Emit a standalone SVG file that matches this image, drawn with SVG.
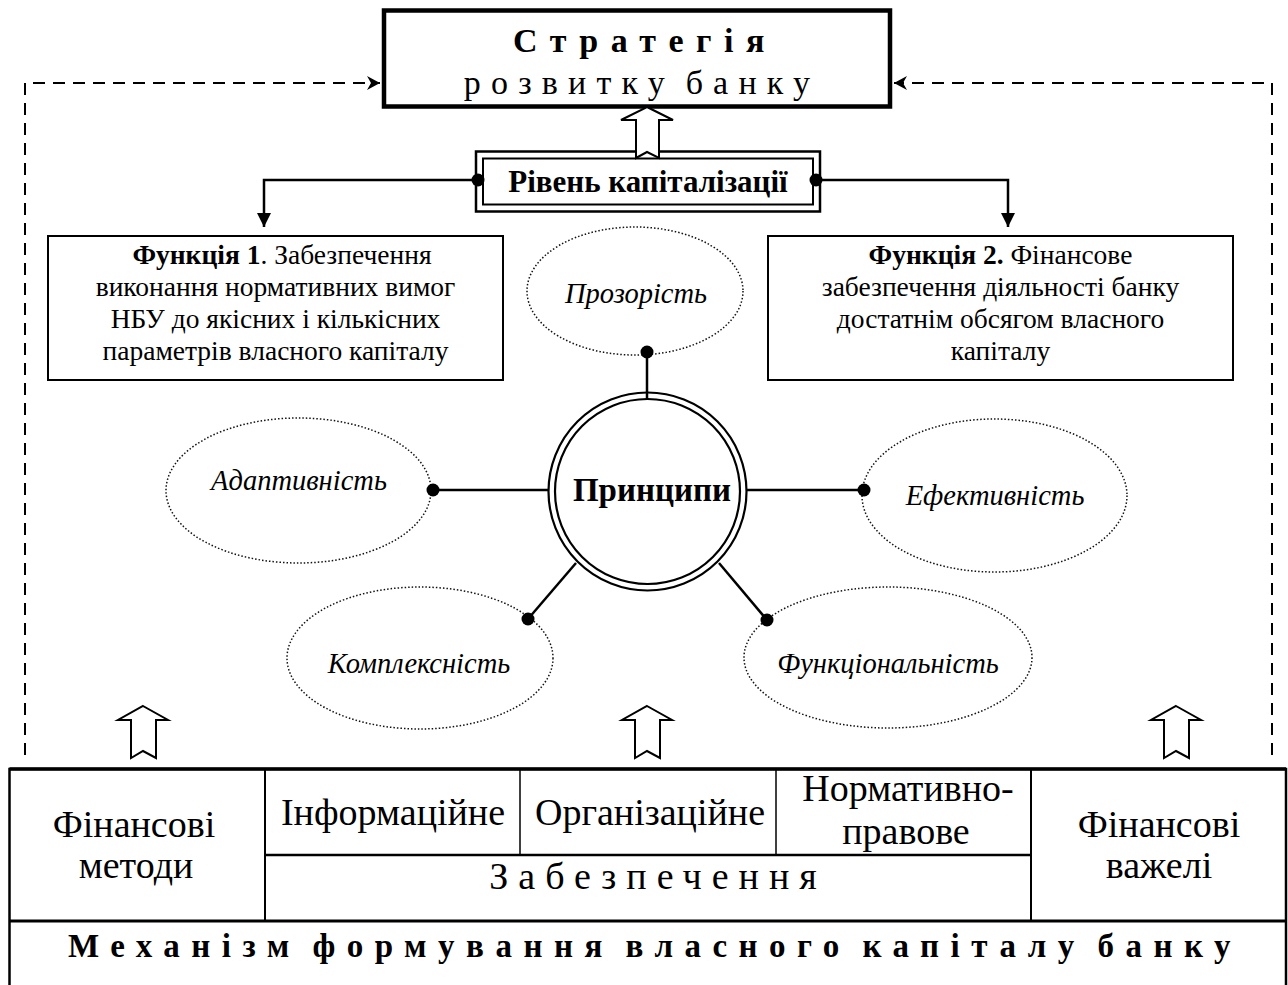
<svg xmlns="http://www.w3.org/2000/svg" width="1288" height="985" viewBox="0 0 1288 985">
<style>
text{font-family:"Liberation Serif","Times New Roman",serif;fill:#000}
.b{font-weight:bold}
.box{fill:#fff;stroke:#000;stroke-width:2}
.ell{fill:none;stroke:#111;stroke-width:1.5;stroke-dasharray:1.5 2}
.ln{fill:none;stroke:#000;stroke-width:2.5}
.dash{fill:none;stroke:#000;stroke-width:2;stroke-dasharray:12 8}
.harrow{fill:#fff;stroke:#000;stroke-width:2;stroke-linejoin:miter}
.f27{font-size:27.5px}
.f38{font-size:38px}
.it{font-size:28.5px;font-style:italic}
</style>
<defs>
<marker id="tri" markerUnits="userSpaceOnUse" markerWidth="16" markerHeight="16" refX="14" refY="7" orient="auto">
<path d="M0,0 L14,7 L0,14 z" fill="#000"/>
</marker>
<marker id="barb" markerUnits="userSpaceOnUse" markerWidth="16" markerHeight="16" refX="13" refY="7" orient="auto">
<path d="M0,0 L13,7 L0,14 L4,7 z" fill="#000"/>
</marker>
</defs>

<g id="strategy">
<rect x="384" y="10.5" width="506" height="96" fill="#fff" stroke="#000" stroke-width="4.5"/>
<text class="b" x="645" y="52" font-size="34" letter-spacing="12.5" text-anchor="middle">Стратегія</text>
<text x="642" y="94" font-size="34" letter-spacing="10.2" word-spacing="-8" text-anchor="middle">розвитку банку</text>
</g>

<g id="level">
<rect x="476" y="151.5" width="344" height="60" fill="#fff" stroke="#000" stroke-width="2.5"/>
<rect x="483" y="158.5" width="330" height="46" fill="none" stroke="#000" stroke-width="2"/>
<text class="b" x="648" y="192" font-size="31" text-anchor="middle">Рівень капіталізації</text>
</g>

<g id="func1">
<rect class="box" x="48" y="236" width="455" height="144"/>
<text class="f27" x="282" y="264" text-anchor="middle"><tspan class="b">Функція 1</tspan>. Забезпечення</text>
<text class="f27" x="275.5" y="296" text-anchor="middle">виконання нормативних вимог</text>
<text class="f27" x="275.5" y="328" text-anchor="middle">НБУ до якісних і кількісних</text>
<text class="f27" x="275.5" y="360" text-anchor="middle">параметрів власного капіталу</text>
</g>

<g id="func2">
<rect class="box" x="768" y="236" width="465" height="144"/>
<text class="f27" x="1000.5" y="264" text-anchor="middle"><tspan class="b">Функція 2.</tspan> Фінансове</text>
<text class="f27" x="1000.5" y="296" text-anchor="middle">забезпечення діяльності банку</text>
<text class="f27" x="1000.5" y="328" text-anchor="middle">достатнім обсягом власного</text>
<text class="f27" x="1000.5" y="360" text-anchor="middle">капіталу</text>
</g>

<g id="transparency">
<ellipse class="ell" cx="635" cy="291" rx="108" ry="64"/>
<text class="it" x="636" y="303" text-anchor="middle">Прозорість</text>
</g>

<g id="principles">
<circle cx="647.5" cy="491.5" r="99" fill="#fff" stroke="#000" stroke-width="2.2"/>
<circle cx="647.5" cy="491.5" r="92.5" fill="none" stroke="#000" stroke-width="2.2"/>
<text class="b" x="652" y="501" font-size="33" text-anchor="middle">Принципи</text>
</g>

<g id="adaptivity">
<ellipse class="ell" cx="298.5" cy="490.5" rx="132.5" ry="72.5"/>
<text class="it" x="299" y="490" text-anchor="middle">Адаптивність</text>
</g>

<g id="efficiency">
<ellipse class="ell" cx="994.5" cy="495.5" rx="132.5" ry="76.5"/>
<text class="it" x="995" y="505" text-anchor="middle">Ефективність</text>
</g>

<g id="complexity">
<ellipse class="ell" cx="420" cy="658" rx="133" ry="71"/>
<text class="it" x="419" y="673" text-anchor="middle">Комплексність</text>
</g>

<g id="functionality">
<ellipse class="ell" cx="888" cy="657.5" rx="144" ry="70.5"/>
<text class="it" x="888" y="673" text-anchor="middle">Функціональність</text>
</g>

<g id="mechanism">
<rect x="9.5" y="769" width="1276.5" height="240" fill="none" stroke="#000" stroke-width="2.5"/>
<line x1="9.5" y1="769" x2="1286" y2="769" stroke="#000" stroke-width="3.5"/>
<line x1="9.5" y1="921" x2="1286" y2="921" stroke="#000" stroke-width="3"/>
<line x1="265" y1="769" x2="265" y2="921" stroke="#000" stroke-width="2"/>
<line x1="1031" y1="769" x2="1031" y2="921" stroke="#000" stroke-width="2"/>
<line x1="265" y1="855" x2="1031" y2="855" stroke="#000" stroke-width="2.5"/>
<line x1="520" y1="769" x2="520" y2="855" stroke="#000" stroke-width="1.5"/>
<line x1="776" y1="769" x2="776" y2="855" stroke="#000" stroke-width="1.5"/>
<text class="f38" x="134" y="837" text-anchor="middle">Фінансові</text>
<text class="f38" x="136" y="878" text-anchor="middle">методи</text>
<text class="f38" x="393" y="825" text-anchor="middle">Інформаційне</text>
<text class="f38" x="650" y="825" text-anchor="middle">Організаційне</text>
<text class="f38" x="908" y="801" text-anchor="middle">Нормативно-</text>
<text class="f38" x="906" y="844" text-anchor="middle">правове</text>
<text class="f38" x="658" y="889" letter-spacing="10" text-anchor="middle">Забезпечення</text>
<text class="f38" x="1159" y="837" text-anchor="middle">Фінансові</text>
<text class="f38" x="1159" y="878" text-anchor="middle">важелі</text>
<text class="b" x="655" y="957" font-size="33" letter-spacing="11.5" word-spacing="-8" text-anchor="middle">Механізм формування власного капіталу банку</text>
</g>

<g id="connectors">
<path class="dash" d="M25,755 L25,83 L380,83" marker-end="url(#barb)"/>
<path class="dash" d="M1272,755 L1272,83 L894,83" marker-end="url(#barb)"/>
<path class="ln" d="M478,180 L264,180 L264,227" marker-end="url(#tri)"/>
<path class="ln" d="M816,180 L1008,180 L1008,227" marker-end="url(#tri)"/>
<path class="ln" d="M647,352 L647,400"/>
<path class="ln" d="M548,490 L433,490"/>
<path class="ln" d="M747,490 L864,490"/>
<path class="ln" d="M576,563 L528,619"/>
<path class="ln" d="M719,563 L767,620"/>
<circle cx="478" cy="180" r="6.5"/>
<circle cx="816" cy="180" r="6.5"/>
<circle cx="647" cy="352" r="6.5"/>
<circle cx="433" cy="490" r="6.5"/>
<circle cx="864" cy="490" r="6.5"/>
<circle cx="528" cy="619" r="6.5"/>
<circle cx="767" cy="620" r="6.5"/>
<polygon class="harrow" points="647,107 673,120 659,120 659,158 647,152 636,158 636,120 621,120"/>
<polygon class="harrow" points="143,706 168,720 156,720 156,758 143,751 131,758 131,720 118,720"/>
<polygon class="harrow" points="647,706 672,720 660,720 660,758 647,751 635,758 635,720 622,720"/>
<polygon class="harrow" points="1176,706 1201,720 1189,720 1189,758 1176,751 1164,758 1164,720 1151,720"/>
</g>
</svg>
